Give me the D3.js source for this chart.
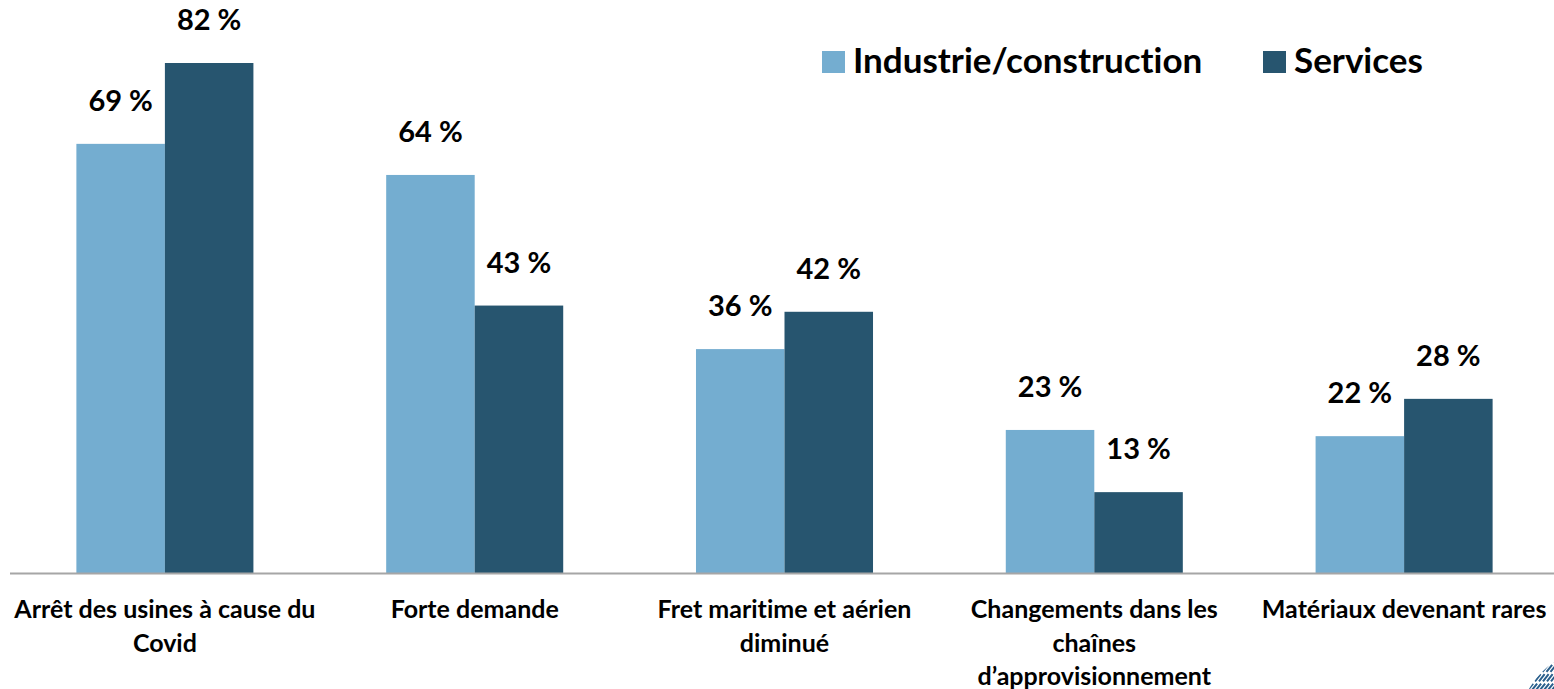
<!DOCTYPE html>
<html>
<head>
<meta charset="utf-8">
<script src="https://cdn.jsdelivr.net/npm/d3@7"></script>
<style>
  body { margin: 0; background: #fff; }
  svg text { font-family: Lato, "Open Sans", sans-serif; font-weight: bold; fill: #000; font-variant-ligatures: none; }
</style>
</head>
<body>
<div id="chart"></div>
<script>
// categories (each one split in lines like the original)
var categories = ["arret", "forte", "fret", "chaines", "materiaux"];
var categoryLines = [
    ["Arrêt des usines à cause du", "Covid"],
    ["Forte demande"],
    ["Fret maritime et aérien", "diminué"],
    ["Changements dans les", "chaînes", "d’approvisionnement"],
    ["Matériaux devenant rares"]
];
var series = ["Industrie/construction", "Services"];
var industrie = [69, 64, 36, 23, 22];
var services = [82, 43, 42, 13, 28];
var colors = ["#74add0", "#27556f"];

var width = 1554, height = 689;

var svg = d3.select("#chart")
    .append("svg")
    .attr("width", width)
    .attr("height", height);

var data = categories.map(function (c, i) {
    return { cat: c, values: [industrie[i], services[i]] };
});

// X scales
var x0 = d3.scaleBand()
    .domain(categories)
    .range([10, 1559])
    .padding(0);
var x1 = d3.scaleBand()
    .domain(series)
    .range([0, x0.bandwidth()])
    .paddingInner(0)
    .paddingOuter(0.75);

// Y scale
var y = d3.scaleLinear()
    .domain([0, 82])
    .range([573, 63]);

// Bars
var groups = svg.selectAll("g.cat")
    .data(data)
    .enter()
    .append("g")
    .attr("class", "cat")
    .attr("transform", function (d) { return "translate(" + x0(d.cat) + ",0)"; });

groups.selectAll("rect")
    .data(function (d) { return d.values.map(function (v, i) { return { s: series[i], v: v, i: i }; }); })
    .enter()
    .append("rect")
    .attr("x", function (d) { return x1(d.s); })
    .attr("width", x1.bandwidth())
    .attr("y", function (d) { return y(d.v); })
    .attr("height", function (d) { return y(0) - y(d.v); })
    .attr("fill", function (d) { return colors[d.i]; });

// value labels
groups.selectAll("text.val")
    .data(function (d) { return d.values.map(function (v, i) { return { s: series[i], v: v }; }); })
    .enter()
    .append("text")
    .attr("class", "val")
    .attr("x", function (d) { return x1(d.s) + x1.bandwidth() / 2; })
    .attr("y", function (d) { return y(d.v) - 33; })
    .attr("text-anchor", "middle")
    .style("font-size", "29px")
    .text(function (d) { return d.v + " %"; });

// X axis line
svg.append("line")
    .attr("x1", 10).attr("x2", width)
    .attr("y1", y(0) + 0.5).attr("y2", y(0) + 0.5)
    .attr("stroke", "#a6a6a6")
    .attr("stroke-width", 2);

// category labels
categories.forEach(function (c, i) {
    var t = svg.append("text")
        .attr("text-anchor", "middle")
        .style("font-size", "25px");
    categoryLines[i].forEach(function (line, j) {
        t.append("tspan")
            .attr("x", x0(c) + x0.bandwidth() / 2)
            .attr("y", 618 + j * 33.5)
            .text(line);
    });
    // keep the label inside the page on the right
    var bb = t.node().getBBox();
    if (bb.x + bb.width > width - 7) {
        t.attr("transform", "translate(" + (width - 7 - bb.x - bb.width) + ",0)");
    }
});

// Legend
var legendX = [822, 1263];
series.forEach(function (s, i) {
    svg.append("rect")
        .attr("x", legendX[i]).attr("y", 51)
        .attr("width", 23).attr("height", 22)
        .attr("fill", colors[i]);
    svg.append("text")
        .attr("x", legendX[i] + 31)
        .attr("y", 73)
        .style("font-size", "35px")
        .text(s);
});

// little logo in the corner
var clip = svg.append("clipPath").attr("id", "logo");
clip.append("circle").attr("cx", 1600).attr("cy", 730).attr("r", 82);
var logo = svg.append("g").attr("clip-path", "url(#logo)");
d3.range(0, 14).forEach(function (k) {
    logo.append("line")
        .attr("x1", 1520 + k * 4).attr("y1", 700)
        .attr("x2", 1560 + k * 4).attr("y2", 650)
        .attr("stroke", "#2a5f8c")
        .attr("stroke-width", 2)
        .attr("stroke-dasharray", "9 3");
});
</script>
</body>
</html>
